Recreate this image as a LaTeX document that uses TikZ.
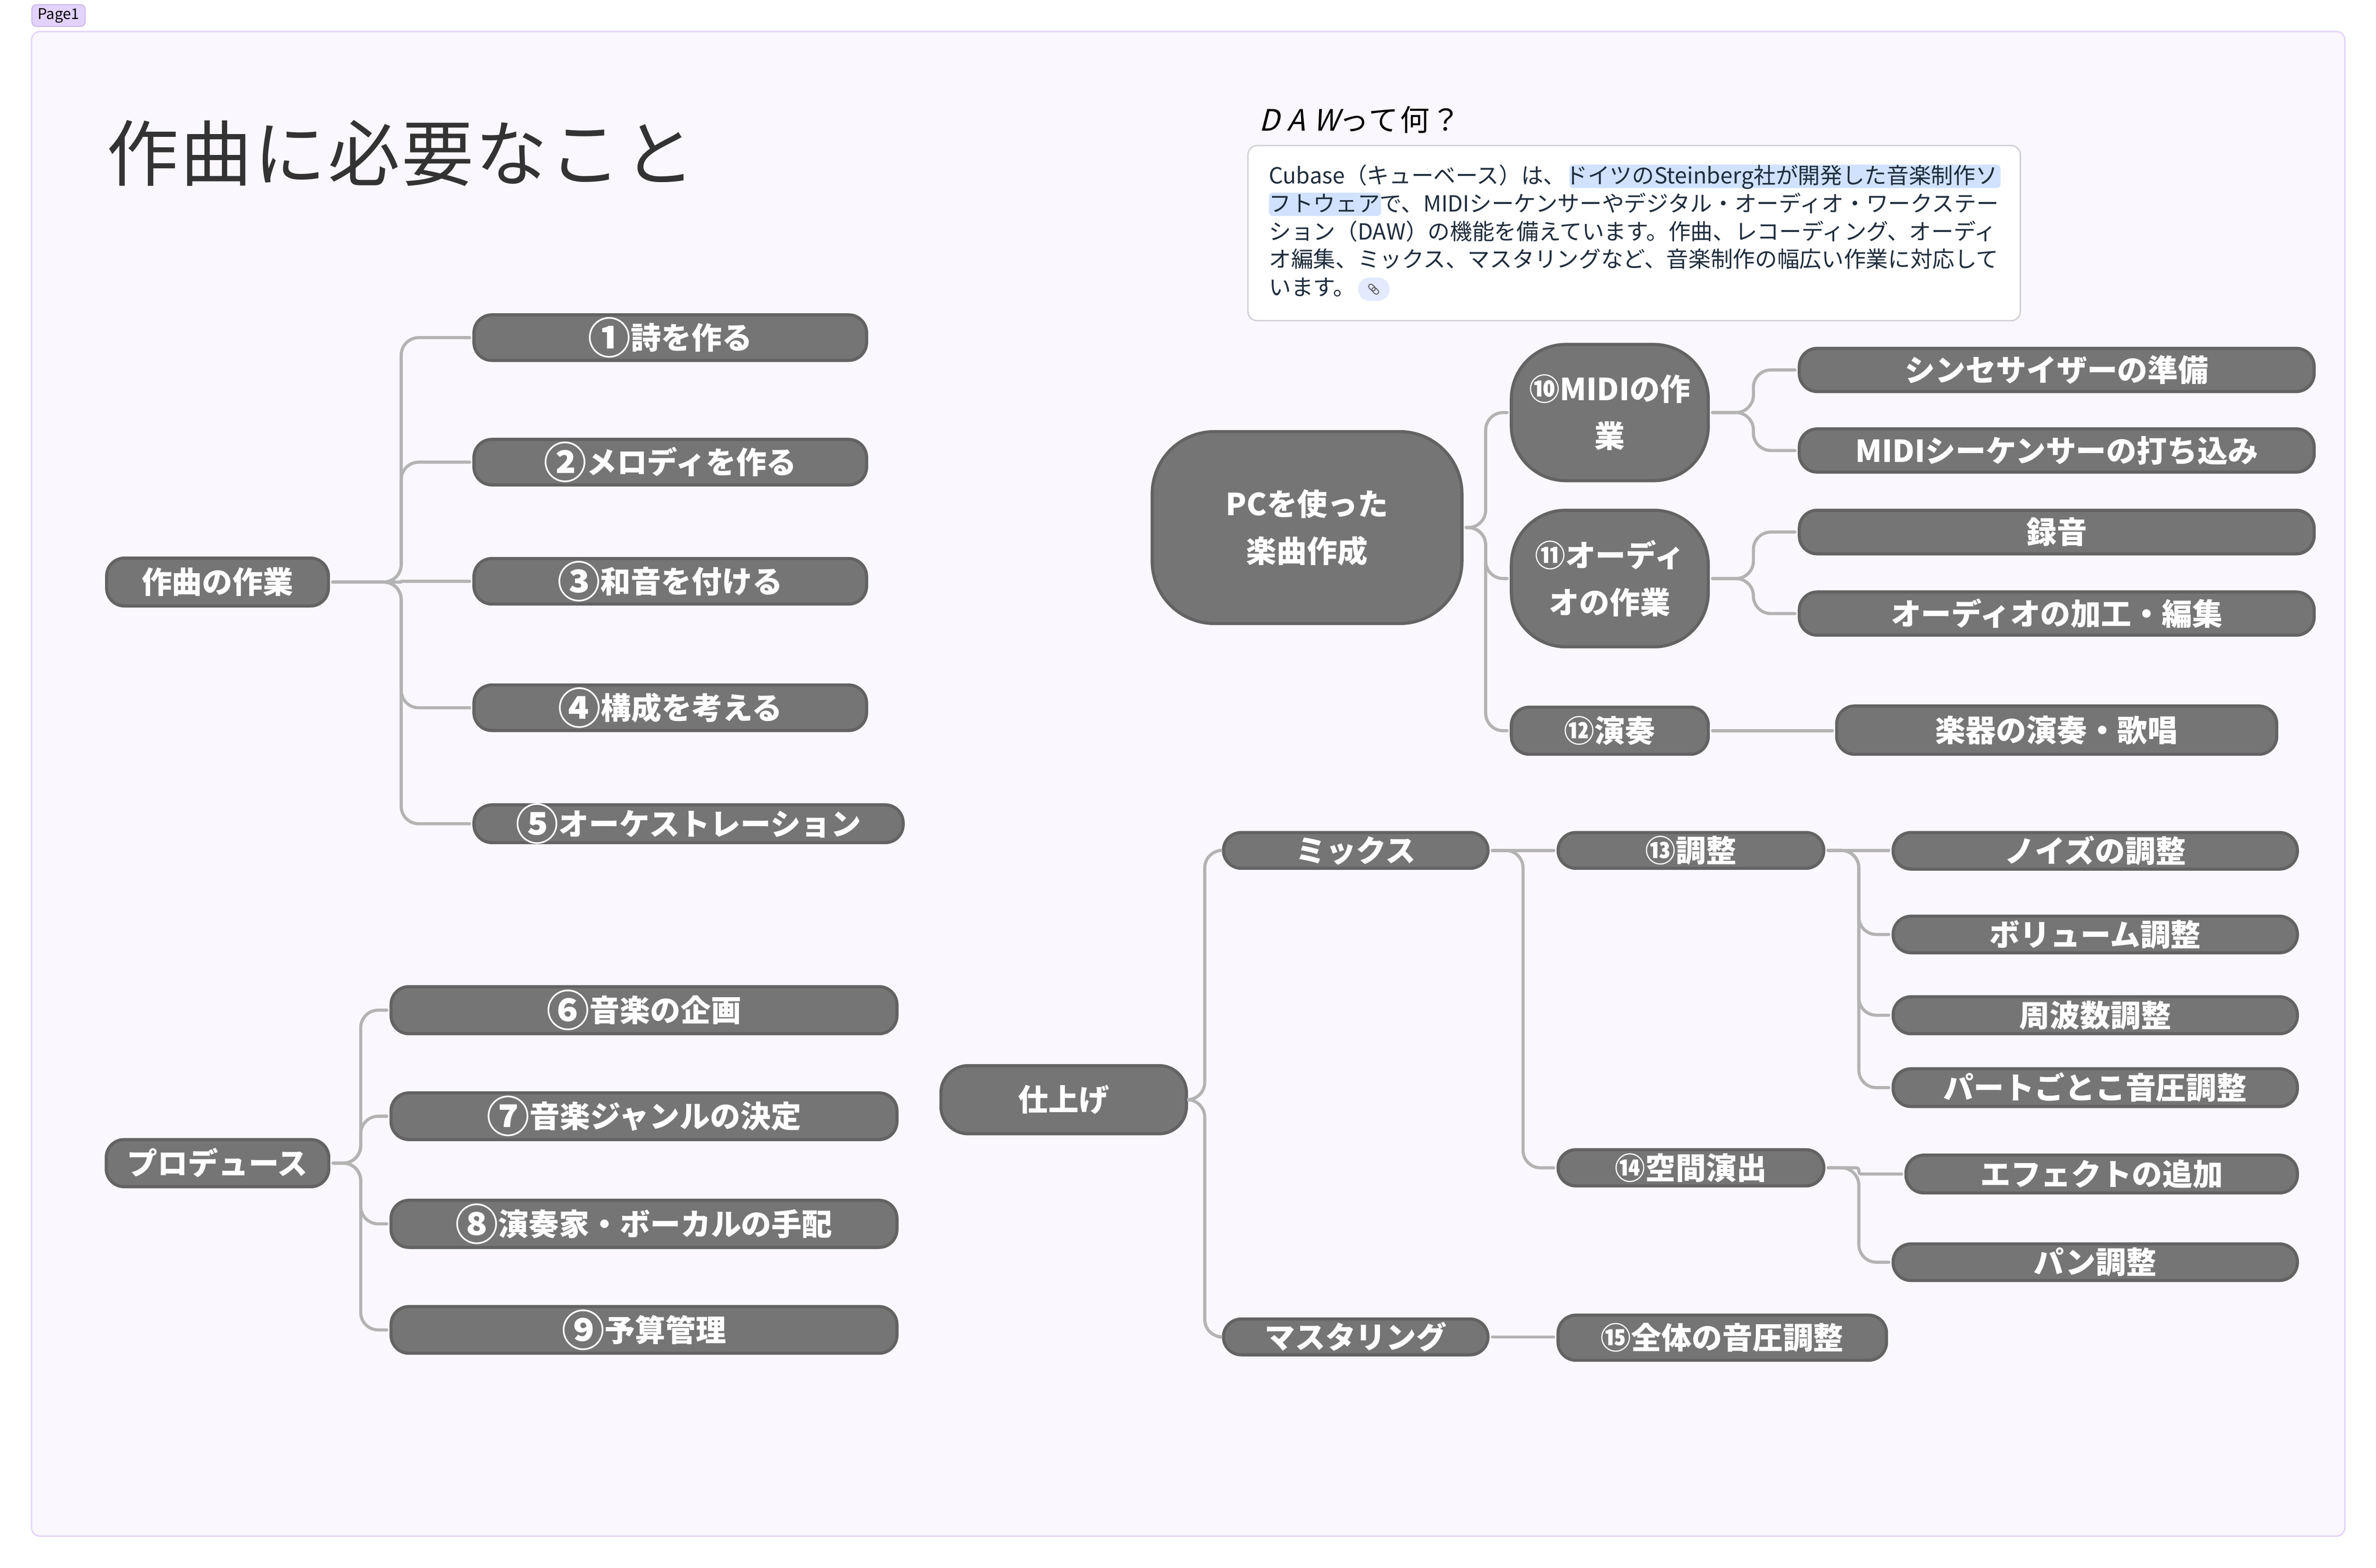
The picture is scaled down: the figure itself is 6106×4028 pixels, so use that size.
\documentclass[tikz,border=0pt]{standalone}
\usepackage{fontspec}
\usetikzlibrary{calc}
\setmainfont{Noto Sans CJK JP}
\definecolor{nfill}{HTML}{757575}
\definecolor{nline}{HTML}{636363}
\definecolor{cline}{HTML}{B3B3B3}
\definecolor{frameF}{HTML}{FAF7FE}
\definecolor{frameL}{HTML}{E6D6FA}
\definecolor{tagF}{HTML}{E3D3FC}
\definecolor{tagL}{HTML}{C9B6E8}
\definecolor{titleC}{HTML}{333333}
\definecolor{cardT}{HTML}{1F2D3D}
\definecolor{cardL}{HTML}{D0D0D4}
\definecolor{hiC}{HTML}{D0E2FF}
\definecolor{pillC}{HTML}{E3EAFD}
\newcommand{\ndfont}{\fontsize{7.8pt}{12.1pt}\selectfont\bfseries}
\newcommand{\bigc}[1]{\raisebox{-1.2pt}{\fontsize{11pt}{11pt}\selectfont #1}}
\tikzset{
  nb/.style={draw=nline,fill=nfill,line width=0.8pt,rectangle,inner sep=0pt,outer sep=0pt,
    text=white,font=\ndfont,align=center,rounded corners=4.6pt},
  one/.style={text height=6.86pt,text depth=0.94pt},
  cn/.style={draw=cline,line width=0.8pt,line cap=round,rounded corners=4.5pt},
  cardtx/.style={anchor=base west,inner sep=0pt,outer sep=0pt,text=cardT,font=\fontsize{5.7pt}{7pt}\selectfont},
}
% \mnode[style]{name}{x1}{y1}{x2}{y2}{text}
\newcommand{\mnode}[7][one]{%
  \pgfmathsetmacro\ncx{(#3+#5)/2}\pgfmathsetmacro\ncy{(#4+#6)/2}%
  \pgfmathsetmacro\nw{(#5-#3-8)*0.1}\pgfmathsetmacro\nh{(#6-#4-8)*0.1}%
  \node[nb,#1,minimum width=\nw pt,minimum height=\nh pt] (#2) at (\ncx,\ncy) {#7};%
}
% \branch[options]{parent}{child}{x of the vertical}
\newcommand{\branch}[4][]{\draw[cn,#1] let \p1=(#2.east),\p2=(#3.west) in
  (\x1+1.1pt,\y1) -- (#4*0.1pt,\y1) -- (#4*0.1pt,\y2) -- (\x2-1.1pt,\y2);}
\newcommand{\straight}[2]{\draw[cn] let \p1=(#1.east),\p2=(#2.west) in
  (\x1+1.1pt,\y1) -- (\x2-1.1pt,\y1);}
\begin{document}
\begin{tikzpicture}[x=0.1pt,y=-0.1pt]
\useasboundingbox (0,0) rectangle (6106,4028);
\fill[white] (0,0) rectangle (6106,4028);
\draw[fill=frameF,draw=frameL,line width=0.4pt,rounded corners=2.2pt] (81,81) rectangle (6026,3947);
\node[draw=tagL,fill=tagF,line width=0.25pt,rounded corners=1.2pt,inner sep=0pt,outer sep=0pt,minimum width=13.7pt,minimum height=5.6pt,font=\fontsize{3.8pt}{4pt}\selectfont,text=black] (tag) at (150.5,40) {Page1};
% titles
\node[anchor=base west,inner sep=0pt,text=titleC,font={\fontsize{18.5pt}{19pt}\selectfont\addfontfeature{LetterSpace=2.5}}] (title) at (272,463) {作曲に必要なこと};
\node[anchor=base west,inner sep=0pt,text=black,font=\fontsize{7.6pt}{8pt}\selectfont] (daw) at (3233,336) {{\addfontfeature{FakeSlant=0.25,LetterSpace=28}DAW}{\addfontfeature{LetterSpace=5}って何？}};
% card
\draw[fill=white,draw=cardL,line width=0.35pt,rounded corners=2.4pt] (3207,374) rectangle (5192,824);
\path[fill=hiC,rounded corners=1pt] (4033,423) rectangle (5141,483);
\path[fill=hiC,rounded corners=1pt] (3261,495) rectangle (3549,555);
\node[cardtx] (l1) at (3261,472) {Cubase（キューベース）は、ドイツのSteinberg社が開発した音楽制作ソ};
\node[cardtx] (l2) at (3261,544) {フトウェアで、MIDIシーケンサーやデジタル・オーディオ・ワークステー};
\node[cardtx] (l3) at (3261,616) {ション（DAW）の機能を備えています。作曲、レコーディング、オーディ};
\node[cardtx] (l4) at (3261,687) {オ編集、ミックス、マスタリングなど、音楽制作の幅広い作業に対応して};
\node[cardtx] (l5) at (3261,759) {います。};
\path[fill=pillC,rounded corners=3pt] (3490,713) rectangle (3571,773);
\begin{scope}[shift={(3530,743)},rotate=-45,draw=nline,line width=0.25pt]
\draw[rounded corners=0.6pt] (-16,-6) rectangle (4,6);
\draw[rounded corners=0.6pt] (-4,-6) rectangle (16,6);
\end{scope}
% left group 1
\mnode{a0}{270}{1430}{848}{1561}{作曲の作業}
\mnode{a1}{1214}{805}{2231}{930}{\bigc{①}詩を作る}
\mnode{a2}{1214}{1125}{2231}{1250}{\bigc{②}メロディを作る}
\mnode{a3}{1214}{1431}{2231}{1556}{\bigc{③}和音を付ける}
\mnode{a4}{1214}{1756}{2231}{1881}{\bigc{④}構成を考える}
\mnode{a5}{1214}{2064}{2325}{2169}{\bigc{⑤}オーケストレーション}
\branch{a0}{a1}{1031}
\branch{a0}{a2}{1031}
\branch[rounded corners=0.1pt]{a0}{a3}{1031}
\branch{a0}{a4}{1031}
\branch{a0}{a5}{1031}
% left group 2
\mnode{b0}{269}{2924}{849}{3053}{プロデュース}
\mnode{b1}{1001}{2531}{2309}{2660}{\bigc{⑥}音楽の企画}
\mnode{b2}{1001}{2804}{2309}{2932}{\bigc{⑦}音楽ジャンルの決定}
\mnode{b3}{1001}{3080}{2309}{3209}{\bigc{⑧}演奏家・ボーカルの手配}
\mnode{b4}{1001}{3353}{2309}{3481}{\bigc{⑨}予算管理}
\branch{b0}{b1}{927}
\branch{b0}{b2}{927}
\branch{b0}{b3}{927}
\branch{b0}{b4}{927}
% PC group
\mnode[rounded corners=16pt]{c0}{2957}{1105}{3761}{1606}{PCを使った\\楽曲作成}
\mnode[rounded corners=14pt]{c1}{3880}{881}{4394}{1239}{⑩MIDIの作\\業}
\mnode[rounded corners=14pt]{c2}{3880}{1307}{4394}{1666}{⑪オーディ\\オの作業}
\mnode{c3}{3880}{1813}{4394}{1942}{⑫演奏}
\mnode{d1}{4620}{891}{5951}{1010}{シンセサイザーの準備}
\mnode{d2}{4620}{1098}{5951}{1217}{MIDIシーケンサーの打ち込み}
\mnode{d3}{4620}{1307}{5951}{1427}{録音}
\mnode{d4}{4620}{1517}{5951}{1636}{オーディオの加工・編集}
\mnode{d5}{4716}{1810}{5855}{1942}{楽器の演奏・歌唱}
\branch{c0}{c1}{3818}
\branch{c0}{c2}{3818}
\branch{c0}{c3}{3818}
\branch{c1}{d1}{4506}
\branch{c1}{d2}{4506}
\branch{c2}{d3}{4506}
\branch{c2}{d4}{4506}
\straight{c3}{d5}
% finishing group
\mnode[one,rounded corners=7pt]{e0}{2414}{2734}{3053}{2917}{仕上げ}
\mnode{e1}{3140}{2135}{3828}{2235}{ミックス}
\mnode{e2}{3140}{3385}{3828}{3485}{マスタリング}
\mnode{f1}{4000}{2135}{4691}{2235}{⑬調整}
\mnode{f2}{4000}{2950}{4691}{3051}{⑭空間演出}
\mnode{f3}{4000}{3375}{4852}{3499}{⑮全体の音圧調整}
\mnode{g1}{4861}{2135}{5908}{2237}{ノイズの調整}
\mnode{g2}{4861}{2350}{5908}{2452}{ボリューム調整}
\mnode{g3}{4861}{2557}{5908}{2660}{周波数調整}
\mnode{g4}{4861}{2742}{5908}{2847}{パートごとこ音圧調整}
\mnode{g5}{4894}{2964}{5908}{3069}{エフェクトの追加}
\mnode{g6}{4861}{3192}{5908}{3294}{パン調整}
\branch{e0}{e1}{3096}
\branch{e0}{e2}{3096}
\straight{e1}{f1}
\branch{e1}{f2}{3914}
\straight{e2}{f3}
\straight{f1}{g1}
\branch{f1}{g2}{4777}
\branch{f1}{g3}{4777}
\branch{f1}{g4}{4777}
\branch[rounded corners=0.6pt]{f2}{g5}{4777}
\branch{f2}{g6}{4777}
\end{tikzpicture}
\end{document}
